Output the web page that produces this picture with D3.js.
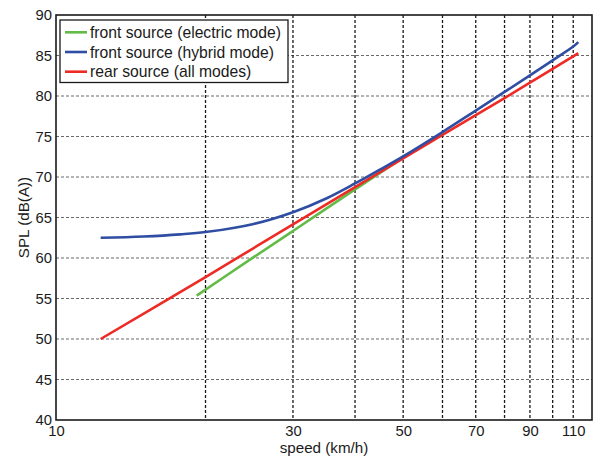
<!DOCTYPE html>
<html>
<head>
<meta charset="utf-8">
<script src="https://cdn.jsdelivr.net/npm/d3@7"></script>
<style>
  html, body { margin: 0; padding: 0; background: #fff; }
  svg { display: block; }
  text { font-family: "Liberation Sans", Arial, sans-serif; fill: #1a1a1a; }
</style>
</head>
<body>
<svg id="chart" width="596" height="457"></svg>
<script>
// Sound pressure level versus vehicle speed
const electricSpeed = [19.2, 25, 30, 35, 40, 45, 50];
const electricSPL   = [55.35, 60.1, 63.33, 66.1, 68.48, 70.55, 72.4];

const hybridSpeed = [12.3, 15, 17.8, 20, 25, 30, 35, 40, 45, 50, 60, 70, 80, 90, 100, 110, 112.6];
const hybridSPL   = [62.5, 62.66, 62.92, 63.2, 64.2, 65.65, 67.35, 69.2, 70.95, 72.55, 75.55, 78.2, 80.5, 82.55, 84.4, 86.1, 86.65];

const rearSpeed = [12.3, 20, 30, 40, 50, 60, 70, 80, 90, 100, 110, 112.6];
const rearSPL   = [50.0, 57.65, 64.15, 68.75, 72.3, 75.2, 77.65, 79.75, 81.65, 83.35, 84.9, 85.3];

const xGridValues  = [20, 30, 40, 50, 60, 70, 80, 90, 100, 110];
const xTickLabels  = [10, 30, 50, 70, 90, 110];
const yTickValues  = [40, 45, 50, 55, 60, 65, 70, 75, 80, 85, 90];

const seriesNames  = ["front source (electric mode)", "front source (hybrid mode)", "rear source (all modes)"];
const seriesColors = ["#62bb47", "#2f4ea3", "#ee2a24"];

(function draw() {
  const svg = d3.select("#chart");
  const pLeft = 56, pRight = 592, pTop = 15, pBottom = 420;

  const x = d3.scaleLog().domain([10, 120]).range([pLeft, pRight]);
  const y = d3.scaleLinear().domain([40, 90]).range([pBottom, pTop]);

  // grid
  const grid = svg.append("g");
  grid.selectAll("line.h").data(yTickValues.filter(v => v > 40 && v < 90)).join("line")
    .attr("class", "h")
    .attr("x1", pLeft).attr("x2", pRight)
    .attr("y1", d => y(d)).attr("y2", d => y(d))
    .attr("stroke", "#6a6a6a").attr("stroke-width", 1.1)
    .attr("stroke-dasharray", "3,2");
  grid.selectAll("line.v").data(xGridValues).join("line")
    .attr("class", "v")
    .attr("x1", d => x(d)).attr("x2", d => x(d))
    .attr("y1", pTop).attr("y2", pBottom)
    .attr("stroke", "#1a1a1a").attr("stroke-width", 1.3)
    .attr("stroke-dasharray", "3,2");

  // axes
  const xAxis = d3.axisBottom(x).tickValues(xTickLabels).tickFormat(d3.format("d")).tickSize(0).tickPadding(5.5);
  const yAxis = d3.axisLeft(y).tickValues(yTickValues).tickFormat(d3.format("d")).tickSize(0).tickPadding(4);

  const gx = svg.append("g").attr("transform", `translate(0,${pBottom})`).call(xAxis);
  const gy = svg.append("g").attr("transform", `translate(${pLeft},0)`).call(yAxis);
  [gx, gy].forEach(g => {
    g.select(".domain").remove();
    g.selectAll("text").attr("font-size", "14.8px").attr("fill", "#1a1a1a")
      .attr("font-family", "'Liberation Sans', Arial, sans-serif");
  });

  // series
  const line = d3.line().x(d => x(d[0])).y(d => y(d[1])).curve(d3.curveCatmullRom.alpha(0.5));
  const series = [
    d3.zip(electricSpeed, electricSPL),
    d3.zip(rearSpeed, rearSPL),
    d3.zip(hybridSpeed, hybridSPL)
  ];
  const colorOrder = [seriesColors[0], seriesColors[2], seriesColors[1]];
  svg.append("g").selectAll("path").data(series).join("path")
    .attr("d", line)
    .attr("fill", "none")
    .attr("stroke", (d, i) => colorOrder[i])
    .attr("stroke-width", 2.6);

  // frame
  svg.append("rect")
    .attr("x", pLeft).attr("y", pTop)
    .attr("width", pRight - pLeft).attr("height", pBottom - pTop)
    .attr("fill", "none").attr("stroke", "#1a1a1a").attr("stroke-width", 1.6);

  // axis titles
  svg.append("text")
    .attr("x", 324).attr("y", 453)
    .attr("text-anchor", "middle").attr("font-size", "15.2px")
    .text("speed (km/h)");
  svg.append("text")
    .attr("transform", `translate(29,${(pTop + pBottom) / 2}) rotate(-90)`)
    .attr("text-anchor", "middle").attr("font-size", "15.2px")
    .text("SPL (dB(A))");

  // legend
  const legend = svg.append("g");
  legend.append("rect")
    .attr("x", 60).attr("y", 20).attr("width", 228).attr("height", 62.5)
    .attr("fill", "#fff").attr("stroke", "#1a1a1a").attr("stroke-width", 1.3);
  const rows = legend.selectAll("g.row").data(seriesNames).join("g")
    .attr("class", "row")
    .attr("transform", (d, i) => `translate(0,${32.3 + i * 19.7})`);
  rows.append("line")
    .attr("x1", 65).attr("x2", 87).attr("y1", 0).attr("y2", 0)
    .attr("stroke", (d, i) => seriesColors[i]).attr("stroke-width", 2.6);
  rows.append("text")
    .attr("x", 90).attr("y", 0).attr("dy", "0.35em")
    .attr("font-size", "15.7px")
    .text(d => d);
})();
</script>
</body>
</html>
